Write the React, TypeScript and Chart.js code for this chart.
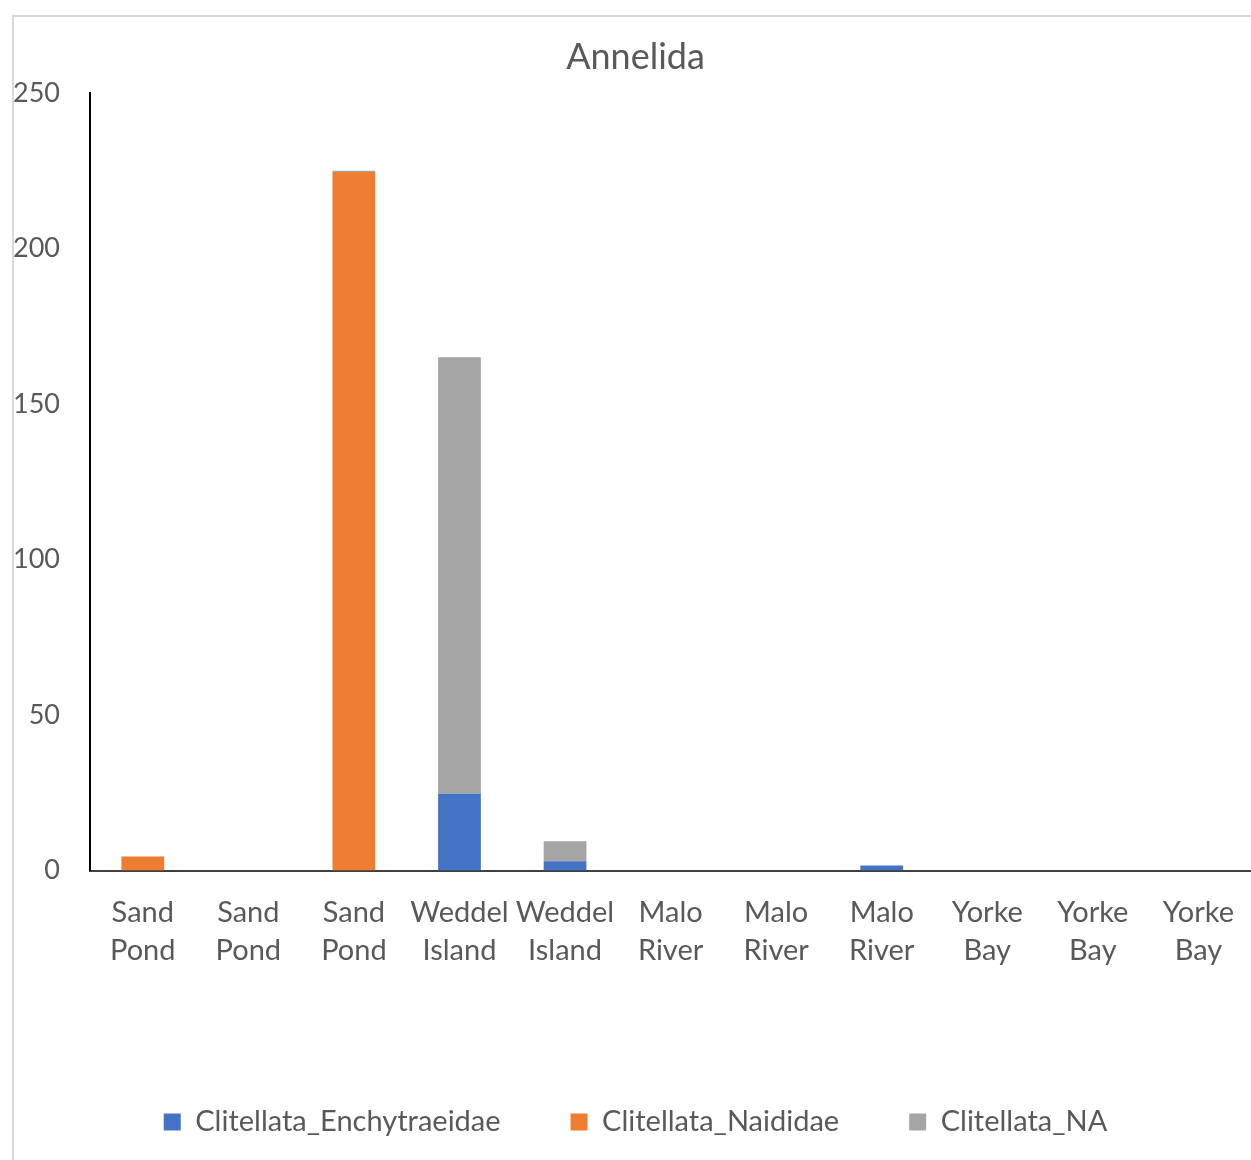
import React, { useEffect, useRef } from "react";
import { Chart, registerables } from "chart.js";

Chart.register(...registerables);

const categories: string[][] = [
  ["Sand", "Pond"], ["Sand", "Pond"], ["Sand", "Pond"],
  ["Weddel", "Island"], ["Weddel", "Island"],
  ["Malo", "River"], ["Malo", "River"], ["Malo", "River"],
  ["Yorke", "Bay"], ["Yorke", "Bay"], ["Yorke", "Bay"],
];
const enchytraeidae = [0, 0, 0, 24.7, 3.0, 0, 0, 1.6, 0, 0, 0];
const naididae = [4.5, 0, 224.6, 0, 0, 0, 0, 0, 0, 0, 0];
const clitellataNA = [0, 0, 0.4, 140.3, 6.4, 0, 0, 0, 0, 0, 0];
const seriesNames = ["Clitellata_Enchytraeidae", "Clitellata_Naididae", "Clitellata_NA"];
const seriesColors = ["#4472C4", "#ED7D31", "#A5A5A5"];
const yTicks = [0, 50, 100, 150, 200, 250];

const FONT = "Lato, 'Open Sans', sans-serif";
const TEXT = "#595959";

export default function App() {
  const ref = useRef<HTMLCanvasElement | null>(null);
  useEffect(() => {
    document.body.style.overflow = "hidden";
    const ctx = ref.current!;
    const chart = new Chart(ctx, {
      type: "bar",
      data: {
        labels: categories,
        datasets: [enchytraeidae, naididae, clitellataNA].map((d, i) => ({
          label: seriesNames[i],
          data: d,
          backgroundColor: seriesColors[i],
          borderWidth: 0,
          barPercentage: 0.405,
          categoryPercentage: 1,
        })),
      },
      options: {
        animation: false,
        responsive: false,
        maintainAspectRatio: false,
        layout: { padding: { left: 0, right: 0, top: 0, bottom: 11.5 } },
        plugins: {
          tooltip: { enabled: false },
          title: {
            display: true,
            text: "Annelida",
            color: TEXT,
            font: { family: FONT, size: 36, weight: "normal" },
            padding: { top: 18.4, bottom: 14.4 },
          },
          legend: {
            position: "bottom",
            labels: {
              color: TEXT,
              font: { family: FONT, size: 29 },
              boxWidth: 17,
              boxHeight: 17,
              padding: 70,
            },
          },
        },
        scales: {
          x: {
            stacked: true,
            grid: { display: false, drawTicks: false },
            border: { display: true, color: "#404040", width: 2 },
            ticks: {
              color: TEXT,
              font: { family: FONT, size: 29, lineHeight: 1.31 },
              padding: 23,
              maxRotation: 0,
              autoSkip: false,
            },
            afterFit: (s: any) => { s.height = 167; },
          },
          y: {
            stacked: true,
            min: 0,
            max: 250,
            grid: { display: false, drawTicks: false },
            border: { display: true, color: "#000000", width: 2 },
            afterBuildTicks: (s: any) => { s.ticks = yTicks.map((v) => ({ value: v })); },
            ticks: {
              color: TEXT,
              font: { family: FONT, size: 27 },
              padding: 30,
            },
            afterFit: (s: any) => { s.width = 76; },
          },
        },
      },
    });
    return () => chart.destroy();
  }, []);
  return (
    <div
      style={{
        position: "absolute",
        left: 12,
        top: 15,
        width: 1245,
        height: 1143,
        borderTop: "2px solid #d9d9d9",
        borderLeft: "2px solid #d9d9d9",
        background: "#fff",
        overflow: "hidden",
      }}
    >
      <canvas ref={ref} width={1243} height={1141} style={{ display: "block" }} />
    </div>
  );
}
